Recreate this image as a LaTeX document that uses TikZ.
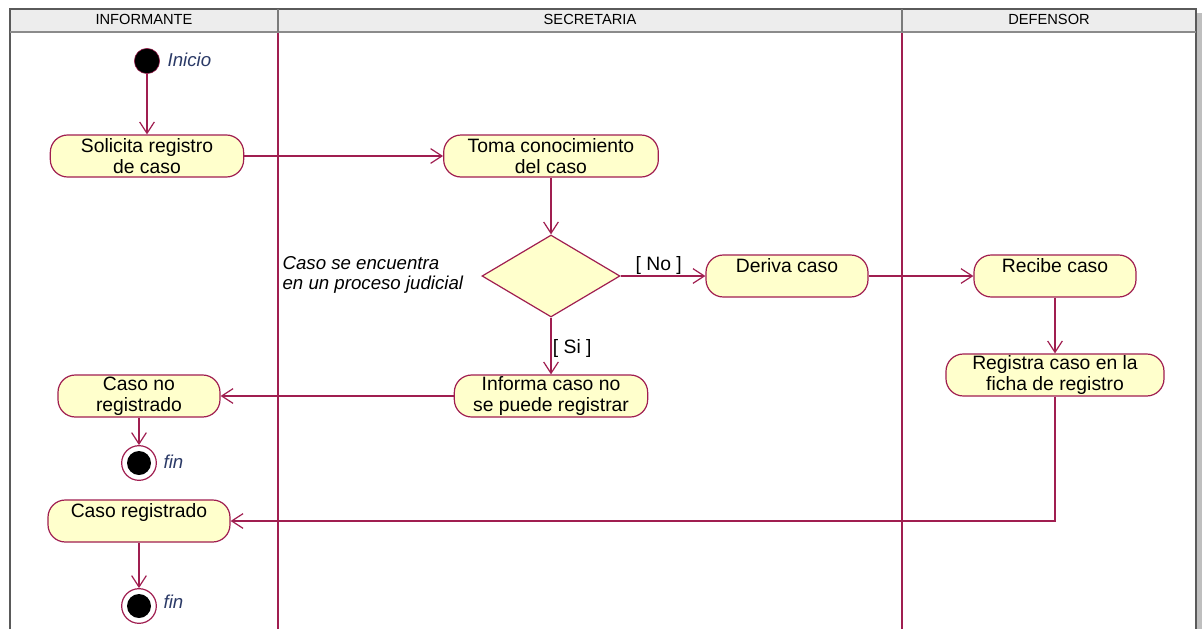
\documentclass[tikz,border=0pt]{standalone}
\usepackage{fontspec}
\setmainfont{Liberation Sans}
\usetikzlibrary{arrows.meta,shapes.geometric}

\definecolor{Linea}{HTML}{A01E50}
\definecolor{Relleno}{HTML}{FFFFCC}
\definecolor{Cabecera}{HTML}{EDEDED}
\definecolor{Borde}{HTML}{5A5A5A}
\definecolor{Etiqueta}{HTML}{2B3A67}

\tikzset{
  actividad/.style={rectangle, rounded corners=13pt, draw=Linea, fill=Relleno,
    line width=.9pt, minimum height=31.5pt, align=center, inner sep=1pt,
    font=\fontsize{14.5}{15.75}\selectfont},
  decision/.style={diamond, draw=Linea, fill=Relleno, line width=.9pt,
    minimum width=103.5pt, minimum height=61.5pt, inner sep=0pt},
  inicio/.style={circle, draw=Linea, fill=black, minimum size=19pt, inner sep=0pt},
  fin/.style={circle, draw=Linea, fill=white, line width=.9pt, minimum size=26pt,
    inner sep=0pt, path picture={\fill[black] (path picture bounding box.center) circle (9pt);}},
  etiqueta/.style={font=\fontsize{14}{15}\selectfont\itshape, text=Etiqueta, inner sep=1pt},
  flujo/.style={draw=Linea, line width=.9pt, -{Straight Barb[length=8.5pt,width=11pt]}},
  guarda/.style={font=\fontsize{14.5}{15}\selectfont, inner sep=1pt},
  carril/.style={font=\fontsize{11}{12}\selectfont}
}

\begin{document}
\begin{tikzpicture}[x=0.75pt,y=-0.75pt]
\useasboundingbox (0,0) rectangle (1204,629);

% Marco y cabecera de los carriles
\fill[black!25] (1196,13) rectangle (1202,629);
\fill[white] (10,9) rectangle (1196,629);
\fill[Cabecera] (10,9) rectangle (1196,32);
\draw[Borde, line width=1.2pt] (10,629) -- (10,9) -- (1196,9) -- (1196,629);
\draw[Borde!70, line width=2pt] (10,32) -- (1196,32);
\draw[Borde!80, line width=1.2pt] (278,9) -- (278,32);
\draw[Borde!80, line width=1.2pt] (902,9) -- (902,32);
\draw[Linea, line width=.9pt] (278,33) -- (278,629);
\draw[Linea, line width=.9pt] (902,33) -- (902,629);

\node[carril] (cInformante) at (144,19) {INFORMANTE};
\node[carril] (cSecretaria) at (590,19) {SECRETARIA};
\node[carril] (cDefensor) at (1049,19) {DEFENSOR};

% Nodos
\node[inicio] (Ini) at (147,61) {};
\node[etiqueta, anchor=west] (lIni) at (166,60) {Inicio};

\node[actividad, minimum width=145pt] (Solicita) at (147,156) {Solicita registro\\de caso};
\node[actividad, minimum width=161pt] (Toma) at (551,156) {Toma conocimiento\\del caso};
\node[decision] (Dec) at (551,276) {};
\node[actividad, minimum width=121.5pt] (Deriva) at (787,276) {Deriva caso\\\phantom{x}};
\node[actividad, minimum width=121.5pt] (Recibe) at (1055,276) {Recibe caso\\\phantom{x}};
\node[actividad, minimum width=163.5pt] (Registra) at (1055,375) {Registra caso en la\\ficha de registro};
\node[actividad, minimum width=145pt] (Informa) at (551,396) {Informa caso no\\se puede registrar};
\node[actividad, minimum width=121.5pt] (CasoNo) at (139,396) {Caso no\\registrado};
\node[fin] (Fin1) at (139,463) {};
\node[etiqueta, anchor=west] (lFin1) at (162,462) {fin};
\node[actividad, minimum width=136.5pt] (CasoReg) at (139,521) {Caso registrado\\\phantom{x}};
\node[fin] (Fin2) at (139,606) {};
\node[etiqueta, anchor=west] (lFin2) at (162,602) {fin};

\node[etiqueta, text=black, align=left, anchor=north west] (lCond) at (281,255)
  {Caso se encuentra\\en un proceso judicial};

% Transiciones
\draw[flujo] (Ini) -- (Solicita);
\draw[flujo] (Solicita) -- (Toma);
\draw[flujo] (Toma) -- (Dec);
\draw[flujo] (Dec) -- node[guarda, above, pos=.45] (gNo) {[ No ]} (Deriva);
\draw[flujo] (Dec) -- node[guarda, right, pos=.55] (gSi) {[ Si ]} (Informa);
\draw[flujo] (Deriva) -- (Recibe);
\draw[flujo] (Recibe) -- (Registra);
\draw[flujo] (Informa) -- (CasoNo);
\draw[flujo] (CasoNo) -- (Fin1);
\draw[flujo] (Registra.south) |- (CasoReg.east);
\draw[flujo] (CasoReg) -- (Fin2);

\end{tikzpicture}
\end{document}
